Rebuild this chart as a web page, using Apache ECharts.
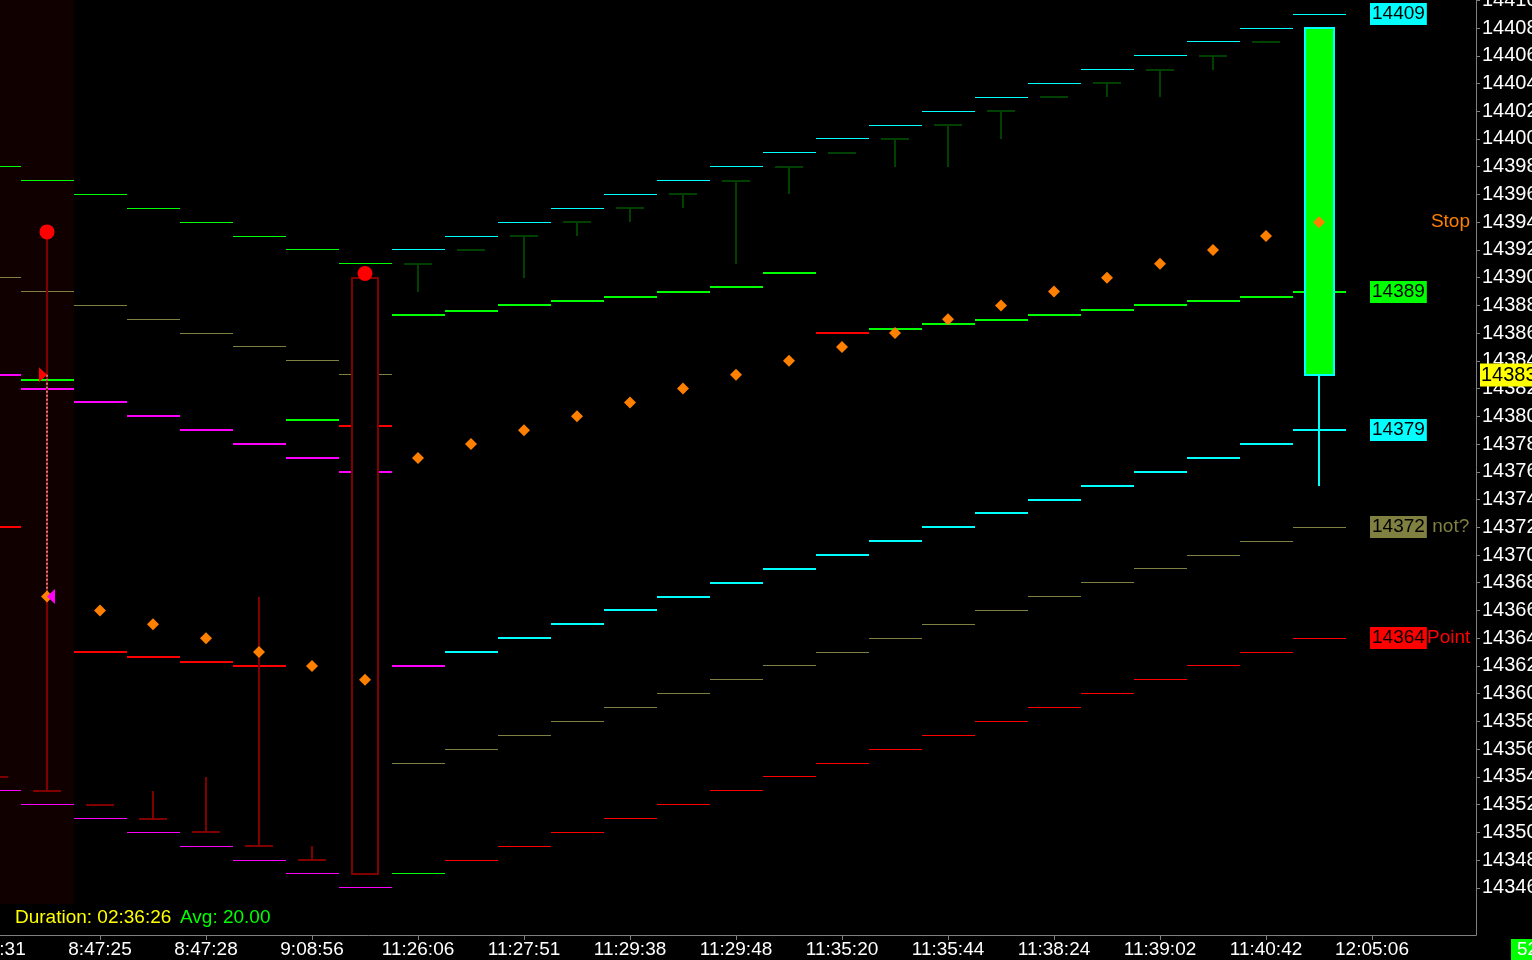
<!DOCTYPE html>
<html><head><meta charset="utf-8">
<script src="https://cdn.jsdelivr.net/npm/echarts@6/dist/echarts.min.js"></script>
<style>html,body{margin:0;padding:0;background:#000;overflow:hidden}#c{width:1532px;height:960px}</style>
</head><body><div id="c"></div>
<script>
// ---------- data ----------
const bars = [-1,0,1,2,3,4,5,6,7,8,9,10,11,12,13,14,15,16,17,18,19,20,21,22,23,24];
const timeTickPos = [-1,1,3,5,7,9,11,13,15,17,19,21,23,25];
const timeLabels = ['8:46:31','8:47:25','8:47:28','9:08:56','11:26:06','11:27:51','11:29:38','11:29:48','11:35:20','11:35:44','11:38:24','11:39:02','11:40:42','12:05:06'];
const priceTicks = [14346,14348,14350,14352,14354,14356,14358,14360,14362,14364,14366,14368,14370,14372,14374,14376,14378,14380,14382,14384,14386,14388,14390,14392,14394,14396,14398,14400,14402,14404,14406,14408,14410];

// session phase per bar: 0 = first session, 1 = transition bar, 2 = second session
const sessionPhase = [0,0,0,0,0,0,0,0,1,2,2,2,2,2,2,2,2,2,2,2,2,2,2,2,2,2];
const upperBand = [14398,14397,14396,14395,14394,14393,14392,14391,14392,14393,14394,14395,14396,14397,14398,14399,14400,14401,14402,14403,14404,14405,14406,14407,14408,14409];
const oliveBand = [14390,14389,14388,14387,14386,14385,14384,14383,14355,14356,14357,14358,14359,14360,14361,14362,14363,14364,14365,14366,14367,14368,14369,14370,14371,14372];
const innerBand = [14383,14382,14381,14380,14379,14378,14377,14376,14362,14363,14364,14365,14366,14367,14368,14369,14370,14371,14372,14373,14374,14375,14376,14377,14378,14379];
const lowerBand = [14353,14352,14351,14350,14349,14348,14347,14346,14347,14348,14349,14350,14351,14352,14353,14354,14355,14356,14357,14358,14359,14360,14361,14362,14363,14364];
const stopLine  = [14372,14382.6,14363.0,14362.65,14362.3,14362.0,14379.7,14379.3,14387.3,14387.6,14388.0,14388.3,14388.6,14389.0,14389.35,14390.3,14386.0,14386.3,14386.65,14386.95,14387.3,14387.7,14388.0,14388.3,14388.6,14389.0];
const stopTrend = [-1,1,-1,-1,-1,-1,1,-1,1,1,1,1,1,1,1,1,-1,1,1,1,1,1,1,1,1,1];
const stopDots  = [null,14367,14366,14365,14364,14363,14362,14361,14377,14378,14379,14380,14381,14382,14383,14384,14385,14386,14387,14388,14389,14390,14391,14392,14393,14394];

const candleOpen  = [14354,14353,14352,14351,14350,14349,14348,14347,14391,14392,14393,14394,14395,14396,14397,14398,14399,14400,14401,14402,14403,14404,14405,14406,14407,14408];
const candleHigh  = [14354,14393.2,14352,14353,14354,14367,14349,14390,14391,14392,14393,14394,14395,14396,14397,14398,14399,14400,14401,14402,14403,14404,14405,14406,14407,14408];
const candleLow   = [14354,14353,14352,14351,14350,14349,14348,14347,14389,14392,14390,14393,14394,14395,14391,14396,14399,14398,14398,14400,14403,14403,14403,14405,14407,14375];
const candleClose = [14354,14353,14352,14351,14350,14349,14348,14390,14391,14392,14393,14394,14395,14396,14397,14398,14399,14400,14401,14402,14403,14404,14405,14406,14407,14383];

const signalBar = [0,6];
const signalPrice = [14393.3,14390.3];
const tradeBar = 0;
const tradeEntry = 14383;
const tradeExit = 14367;

// highlighted (previous session) bars and the band's lower price edge
const highlightBars = [-1, 0];
const highlightFloor = 14344.8;

const tagNotes = ['', '', '', ' not?', 'Point'];
const stopNote = 'Stop';
const statusDuration = 'Duration: 02:36:26';
const statusAvg = 'Avg: 20.00';
const barCountdown = '52';

// ---------- chart ----------
const FONT = '"Liberation Sans", Arial, sans-serif';
const COL = {green:'#00ff00', cyan:'#00ffff', magenta:'#ff00ff', red:'#ff0000', olive:'#808040',
             orange:'#ff8000', dred:'#800000', dgreen:'#004000', yellow:'#ffff00'};
const last = a => a[a.length - 1];
const X_MIN = -2, X_MAX = 26.962, Y_MIN = 14342.6, Y_MAX = 14410.02;

function segSeries(vals, colorFn, width, z) {
  return {
    type: 'custom', z: z, silent: true,
    data: bars.map((k, i) => [k, vals[i] == null ? '-' : vals[i], i]),
    encode: {x: 0, y: 1},
    renderItem: function (params, api) {
      const k = api.value(0), v = api.value(1), i = api.value(2);
      if (isNaN(v)) return null;
      const a = api.coord([k - 0.5, v]), b = api.coord([k + 0.5, v]);
      const y = width % 2 ? Math.floor(a[1]) + 0.5 : Math.round(a[1]);
      return {type: 'line', shape: {x1: Math.round(a[0]), y1: y, x2: Math.round(b[0]), y2: y},
              style: {stroke: colorFn(i), lineWidth: width}};
    }
  };
}

const bandSeries = {
  type: 'custom', z: 0, silent: true, clip: false,
  data: [[highlightBars[0], highlightBars[1], highlightFloor]],
  encode: {x: [0, 1], y: 2},
  renderItem: function (params, api) {
    const a = api.coord([api.value(0) - 0.5, api.value(2)]);
    const b = api.coord([api.value(1) + 0.5, Y_MAX]);
    return {type: 'rect', shape: {x: Math.round(a[0]), y: Math.round(b[1]), width: Math.round(b[0]) - Math.round(a[0]),
            height: Math.round(a[1]) - Math.round(b[1])}, style: {fill: '#110000'}};
  }
};

const candleSeries = {
  type: 'custom', z: 5, silent: true,
  data: bars.map((k, i) => [k, candleOpen[i], candleHigh[i], candleLow[i], candleClose[i], i]),
  encode: {x: 0, y: [1, 2, 3, 4]},
  renderItem: function (params, api) {
    const k = api.value(0), o = api.value(1), h = api.value(2), l = api.value(3), c = api.value(4), i = api.value(5);
    const cx = Math.round(api.coord([k, o])[0]);
    const yO = Math.round(api.coord([k, o])[1]), yH = Math.round(api.coord([k, h])[1]);
    const yL = Math.round(api.coord([k, l])[1]), yC = Math.round(api.coord([k, c])[1]);
    const top = Math.min(yO, yC), bot = Math.max(yO, yC);
    const half = 14;
    const children = [];
    if (i === bars.length - 1) {
      children.push({type: 'line', shape: {x1: cx, y1: yH, x2: cx, y2: yL}, style: {stroke: COL.cyan, lineWidth: 2}});
      children.push({type: 'rect', shape: {x: cx - half, y: top, width: half * 2 + 1, height: bot - top},
                     style: {fill: COL.green, stroke: COL.cyan, lineWidth: 2}});
    } else {
      const col = sessionPhase[i] === 0 ? COL.dred : COL.dgreen;
      if (yH !== yL) children.push({type: 'line', shape: {x1: cx, y1: yH, x2: cx, y2: yL}, style: {stroke: col, lineWidth: 2}});
      if (bot - top > 1) {
        children.push({type: 'rect', shape: {x: cx - half + 1, y: top, width: half * 2 - 2, height: bot - top},
                       style: {fill: '#000', stroke: col, lineWidth: 2}});
      } else {
        children.push({type: 'line', shape: {x1: cx - half, y1: yO, x2: cx + half, y2: yO}, style: {stroke: col, lineWidth: 2}});
      }
    }
    return {type: 'group', children: children};
  }
};

const tagList = [
  {v: last(upperBand), bg: COL.cyan, note: tagNotes[0], nc: COL.cyan},
  {v: last(stopLine),  bg: COL.green, note: tagNotes[1], nc: COL.green},
  {v: last(innerBand), bg: COL.cyan, note: tagNotes[2], nc: COL.cyan},
  {v: last(oliveBand), bg: COL.olive, note: tagNotes[3], nc: COL.olive},
  {v: last(lowerBand), bg: COL.red, note: tagNotes[4], nc: COL.red}
];

const tagSeries = {
  type: 'custom', z: 20, silent: true, clip: false,
  data: tagList.map((t, i) => [25, t.v, i]),
  encode: {x: 0, y: 1},
  renderItem: function (params, api) {
    const t = tagList[api.value(2)];
    const p = api.coord([api.value(0), api.value(1)]);
    const x = Math.round(p[0]) - 2, y = Math.round(p[1]);
    const ch = [{type: 'text', x: x, y: y, style: {text: String(Math.round(t.v)), fill: '#000', backgroundColor: t.bg,
      padding: [2, 2, 1, 2], fontSize: 19, fontFamily: FONT, lineHeight: 19, align: 'left', verticalAlign: 'middle'}}];
    if (t.note) ch.push({type: 'text', x: x + 57, y: y, style: {text: t.note, fill: t.nc, fontSize: 19, fontFamily: FONT,
      align: 'left', verticalAlign: 'middle'}});
    return {type: 'group', children: ch};
  }
};

const sideSeries = {
  type: 'custom', z: 20, silent: true, clip: false,
  data: [[X_MAX, last(stopDots), 0], [X_MAX, last(candleClose), 1]],
  encode: {x: 0, y: 1},
  renderItem: function (params, api) {
    const p = api.coord([api.value(0), api.value(1)]);
    const x = Math.round(p[0]), y = Math.round(p[1]);
    if (api.value(2) === 0) {
      return {type: 'text', x: x - 6, y: y, style: {text: stopNote, fill: COL.orange, fontSize: 19, fontFamily: FONT,
        align: 'right', verticalAlign: 'middle'}};
    }
    return {type: 'text', x: x + 4, y: y, style: {text: String(Math.round(api.value(1))), fill: '#000', backgroundColor: COL.yellow,
      padding: [2, 3, 2, 1], fontSize: 20, fontFamily: FONT, lineHeight: 19, align: 'left', verticalAlign: 'middle'}};
  }
};

const chart = echarts.init(document.getElementById('c'), null, {renderer: 'canvas'});
chart.setOption({
  backgroundColor: '#000',
  animation: false,
  grid: {left: -59, right: 56, top: 0, bottom: 25, containLabel: false, outerBoundsMode: 'none'},
  xAxis: {
    type: 'value', min: X_MIN, max: X_MAX,
    axisLine: {show: true, onZero: false, lineStyle: {color: '#808080', width: 1}},
    axisTick: {show: true, customValues: timeTickPos, length: 5, lineStyle: {color: '#808080'}},
    axisLabel: {customValues: timeTickPos, color: '#ffffff', fontSize: 19, fontFamily: FONT, margin: 5,
      formatter: v => timeLabels[timeTickPos.indexOf(Math.round(v))]},
    splitLine: {show: false}
  },
  yAxis: {
    type: 'value', position: 'right', min: Y_MIN, max: Y_MAX,
    axisLine: {show: true, onZero: false, lineStyle: {color: '#808080', width: 1}},
    axisTick: {show: true, customValues: priceTicks, length: 4, lineStyle: {color: '#808080'}},
    axisLabel: {customValues: priceTicks, color: '#ffffff', fontSize: 20, fontFamily: FONT, margin: 6,
      formatter: v => String(Math.round(v))},
    splitLine: {show: false}
  },
  graphic: [
    {type: 'text', left: 15, top: 908, z: 50, style: {text: statusDuration, fill: COL.yellow, fontSize: 19, fontFamily: FONT}},
    {type: 'text', left: 180, top: 908, z: 50, style: {text: statusAvg, fill: COL.green, fontSize: 19, fontFamily: FONT}},
    {type: 'text', left: 1511, top: 939, z: 50, style: {text: barCountdown, fill: '#ffffff', backgroundColor: COL.green,
      padding: [1, 6, 1, 6], fontSize: 19, fontFamily: FONT}}
  ],
  series: [
    bandSeries,
    segSeries(upperBand, i => sessionPhase[i] === 0 ? COL.green : COL.cyan, 1, 2),
    segSeries(oliveBand, i => COL.olive, 1, 2),
    segSeries(lowerBand, i => [COL.magenta, COL.green, COL.red][sessionPhase[i]], 1, 2),
    segSeries(innerBand, i => sessionPhase[i] < 2 ? COL.magenta : COL.cyan, 2, 3),
    segSeries(stopLine, i => stopTrend[i] > 0 ? COL.green : COL.red, 2, 3),
    candleSeries,
    {type: 'line', z: 6, silent: true, symbol: 'none', data: [[tradeBar, tradeEntry], [tradeBar, tradeExit]],
      lineStyle: {color: '#ffffff', width: 1, type: [2, 2], opacity: 1}},
    {type: 'scatter', z: 7, silent: true, symbol: 'diamond', symbolSize: 12,
      data: bars.map((k, i) => [k, stopDots[i] == null ? '-' : stopDots[i]]), itemStyle: {color: COL.orange, opacity: 1}},
    {type: 'scatter', z: 8, silent: true, symbol: 'triangle', symbolSize: [15, 8], symbolRotate: -90, symbolOffset: [-4, 0],
      data: [[tradeBar, tradeEntry]], itemStyle: {color: COL.red, opacity: 1}},
    {type: 'scatter', z: 8, silent: true, symbol: 'triangle', symbolSize: [15, 8], symbolRotate: 90, symbolOffset: [4, 0],
      data: [[tradeBar, tradeExit]], itemStyle: {color: COL.magenta, opacity: 1}},
    {type: 'scatter', z: 8, silent: true, symbol: 'circle', symbolSize: 15,
      data: signalBar.map((k, i) => [k, signalPrice[i]]), itemStyle: {color: COL.red, opacity: 1}},
    tagSeries,
    sideSeries
  ]
});
</script>
</body></html>
